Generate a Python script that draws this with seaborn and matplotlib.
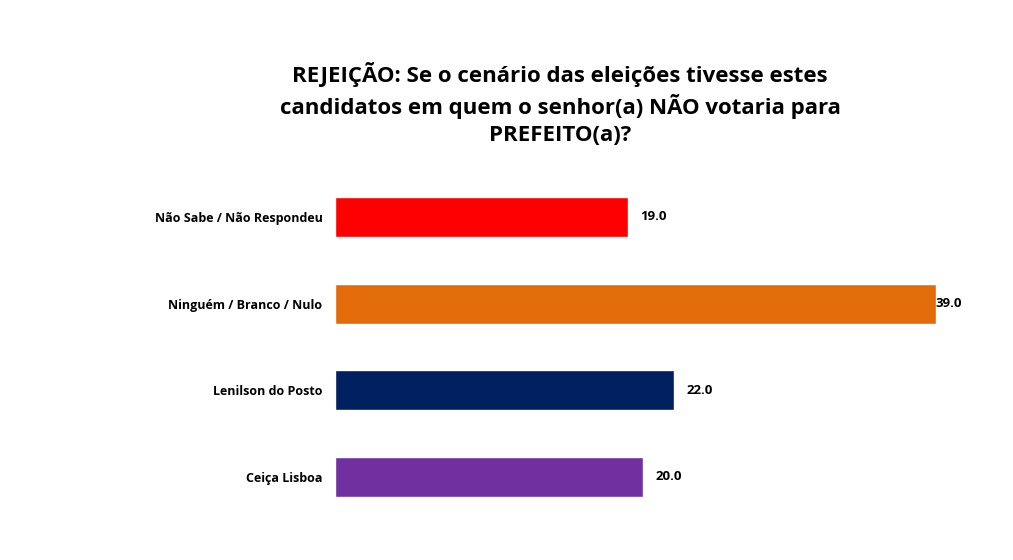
import matplotlib
matplotlib.use('Agg')
import matplotlib.pyplot as plt
import seaborn as sns
import pandas as pd

# data
categories = ['Não Sabe / Não Respondeu', 'Ninguém / Branco / Nulo',
              'Lenilson do Posto', 'Ceiça Lisboa']
values = [19.0, 39.0, 22.0, 20.0]
bar_colors = ['#FF0000', '#E36C0A', '#002060', '#7030A0']
title = ('REJEIÇÃO: Se o cenário das eleições tivesse estes\n'
         'candidatos em quem o senhor(a) NÃO votaria para\n'
         'PREFEITO(a)?')

sns.set_style('white')
plt.rcParams['font.family'] = ['Open Sans', 'DejaVu Sans']
plt.rcParams['text.color'] = 'black'
plt.rcParams['ytick.color'] = 'black'

df = pd.DataFrame({'categoria': categories, 'valor': values})

fig = plt.figure(figsize=(10.13, 5.6), dpi=100)
ax = fig.add_axes([0.3307, 0.071, 0.939 - 0.3307, 0.690 - 0.071])
sns.barplot(data=df, y='categoria', x='valor', hue='categoria',
            palette=bar_colors, orient='h', width=0.46, legend=False,
            saturation=1, ax=ax)

ax.set_xlim(0, 40)
ax.set_ylim(3.5, -0.5)
ax.set_xlabel('')
ax.set_ylabel('')
ax.set_xticks([])
ax.tick_params(axis='y', length=0, pad=9)
for lbl in ax.get_yticklabels():
    lbl.set_fontweight('bold')
    lbl.set_fontsize(9)
for s in ax.spines.values():
    s.set_visible(False)

# value labels: the longest bar has its label pressed against the bar end
for i, v in enumerate(values):
    off = 0 if v == max(values) else 9
    ax.annotate(f'{v:.1f}', xy=(v, i), xytext=(off, 0), textcoords='offset points',
                ha='left', va='center', fontsize=9.5, fontweight='bold', color='black')

fig.text(0.553, 0.814, title, ha='center', va='center', fontsize=16,
         fontweight='bold', linespacing=1.35, color='black')

fig.savefig('out.png', dpi=100)
